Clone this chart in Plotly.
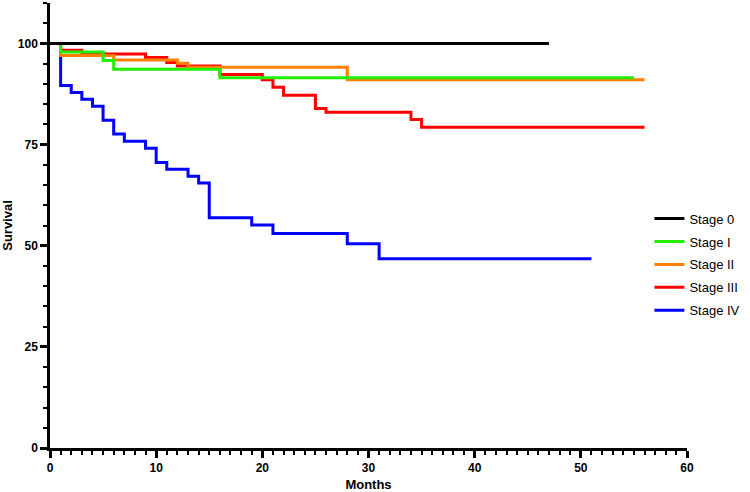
import plotly.graph_objects as go

# ── data ────────────────────────────────────────────────────────────────────

STAGES = ["Stage 0", "Stage I", "Stage II", "Stage III", "Stage IV"]
COLORS = ["#000000", "#22ee00", "#ff8000", "#ff0000", "#0000ff"]

stage0_months = [0, 47]
stage0_surv = [100, 100]

stage1_months = [0, 1, 5, 6, 16, 55]
stage1_surv = [100, 97.9, 95.8, 93.6, 91.5, 91.5]

stage2_months = [0, 1, 6, 12, 13, 28, 56]
stage2_surv = [100, 97.0, 95.9, 95.1, 94.1, 91.0, 91.0]

stage3_months = [0, 1, 3, 9, 11, 12, 16, 20, 21, 22, 25, 26, 34, 35, 56]
stage3_surv = [100, 98.3, 97.4, 96.5, 95.3, 94.4, 92.3, 91.0, 89.2, 87.2,
               83.9, 83.0, 81.2, 79.3, 79.3]

stage4_months = [0, 1, 2, 3, 4, 5, 6, 7, 9, 10, 11, 13, 14, 15, 19, 21, 28, 31, 51]
stage4_surv = [100, 89.6, 87.9, 86.2, 84.5, 81.0, 77.6, 75.8, 74.1, 70.6,
               68.9, 67.2, 65.5, 56.9, 55.1, 53.0, 50.5, 46.8, 46.8]

CURVES = [
    (stage0_months, stage0_surv),
    (stage1_months, stage1_surv),
    (stage2_months, stage2_surv),
    (stage3_months, stage3_surv),
    (stage4_months, stage4_surv),
]

# ── style ────────────────────────────────────────────────────────────────────

FONT = "Arial, Liberation Sans, sans-serif"

AXIS = dict(
    showline=True, linecolor="black", linewidth=2.5,
    ticks="outside", ticklen=7, tickwidth=2.5, tickcolor="black",
    tickfont=dict(family=FONT, size=12, color="black", weight="bold"),
    showgrid=False, zeroline=False, automargin=False,
)

# ── figure ───────────────────────────────────────────────────────────────────

fig = go.Figure()

# GraphPad draws the last data set first, so Stage IV goes underneath
for i in reversed(range(len(STAGES))):
    months, surv = CURVES[i]
    fig.add_trace(go.Scatter(
        x=months, y=surv, name=STAGES[i], mode="lines",
        line=dict(color=COLORS[i], width=3, shape="hv"),
        legendgroup=STAGES[i], legendrank=i + 1,
    ))

fig.update_layout(
    width=750, height=492,
    margin=dict(l=50, r=63, t=3, b=44),
    paper_bgcolor="white", plot_bgcolor="white",
    font=dict(family=FONT, color="black"),
    # kept just inside the paper so it does not push the right margin
    legend=dict(
        x=0.941, xanchor="left", y=0.412, yanchor="middle",
        traceorder="grouped", tracegroupgap=3,
        font=dict(family=FONT, size=13, color="black"),
        bgcolor="rgba(0,0,0,0)",
    ),
    xaxis=dict(
        **AXIS, range=[0, 60], dtick=10, tick0=0,
        minor=dict(ticks="outside", dtick=1, ticklen=4, tickwidth=2, tickcolor="black"),
        title=dict(text="Months", standoff=6,
                   font=dict(family=FONT, size=13, color="black", weight="bold")),
    ),
    yaxis=dict(
        **AXIS, range=[0, 110], dtick=25, tick0=0,
        minor=dict(ticks="outside", dtick=5, ticklen=4, tickwidth=2, tickcolor="black"),
        title=dict(text="Survival", standoff=8,
                   font=dict(family=FONT, size=13, color="black", weight="bold")),
    ),
)

# drop the browser's default 8px body margin so the figure sits at 0,0
fig.write_html("out.html", config={"displayModeBar": False},
               post_script="document.body.style.margin = '0';")
